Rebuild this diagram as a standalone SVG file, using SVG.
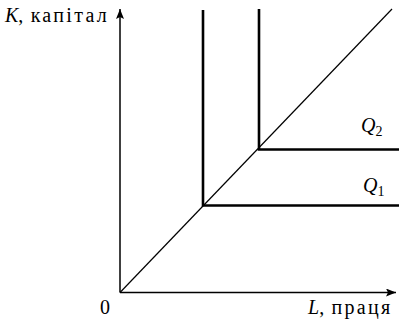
<svg xmlns="http://www.w3.org/2000/svg" width="399" height="322" viewBox="0 0 399 322">
<style>
.axis{stroke:#000;stroke-width:1.5;fill:none}
.iso{stroke:#000;stroke-width:2.6;fill:none}
.diag{stroke:#000;stroke-width:1.2;fill:none}
.t{font-family:"Liberation Serif","Times New Roman",Times,serif;font-size:20px;fill:#000}
.ls{letter-spacing:2.3px}
</style>
<defs>
<marker id="ah" viewBox="0 0 10 8" refX="10" refY="4" markerWidth="10" markerHeight="8" markerUnits="userSpaceOnUse" orient="auto">
<path d="M0,0 L10,4 L0,8 L2,4 Z" fill="#000"/>
</marker>
</defs>
<g id="connectors">
<line class="axis" x1="120" y1="292.5" x2="120" y2="9" marker-end="url(#ah)"/>
<line class="axis" x1="120" y1="292.5" x2="396" y2="292.5" marker-end="url(#ah)"/>
<line class="diag" x1="120" y1="292.5" x2="392" y2="9"/>
</g>
<g id="Q1">
<polyline class="iso" points="203,10 203,205.5 399,205.5"/>
<text class="t" x="363" y="192" font-style="italic">Q<tspan font-size="14" dy="4" font-style="normal">1</tspan></text>
</g>
<g id="Q2">
<polyline class="iso" points="259,9 259,149.5 399,149.5"/>
<text class="t" x="361" y="132" font-style="italic">Q<tspan font-size="14" dy="4" font-style="normal">2</tspan></text>
</g>
<g id="labels">
<text class="t" x="5" y="22"><tspan font-style="italic">K</tspan>,<tspan class="ls"> капітал</tspan></text>
<text class="t" x="100" y="314">0</text>
<text class="t" x="308" y="314"><tspan font-style="italic">L</tspan>,<tspan class="ls"> праця</tspan></text>
</g>
</svg>
